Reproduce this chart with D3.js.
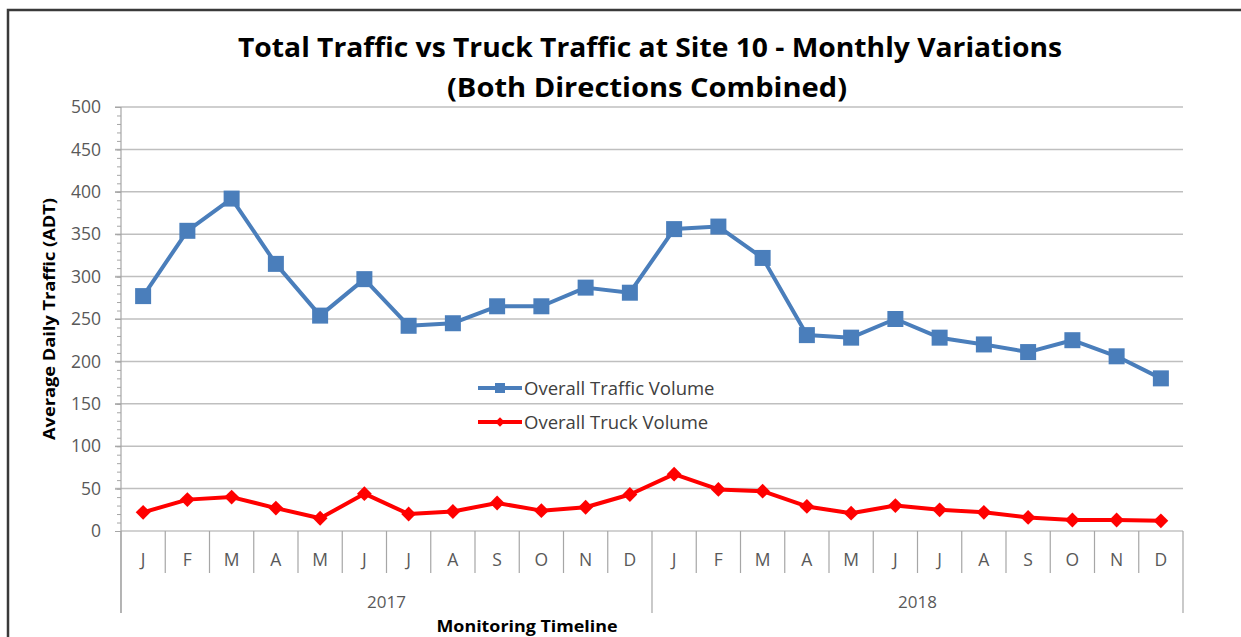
<!DOCTYPE html>
<html lang="en">
<head>
    <meta charset="UTF-8">
    <title>Total Traffic vs Truck Traffic at Site 10</title>
    <script src="https://d3js.org/d3.v7.min.js"></script>
    <style>
        body { margin: 0; background: #fff; }
        text { font-family: "Open Sans", sans-serif; }
        .grid { stroke: #bfbfbf; stroke-width: 1.5; }
        .axisline { stroke: #a6a6a6; stroke-width: 1.2; fill: none; }
    </style>
</head>
<body>
    <script>
        // Data
        const years = ["2017", "2018"];
        const months = ["J", "F", "M", "A", "M", "J", "J", "A", "S", "O", "N", "D"];
        const totalTraffic = [277, 354, 392, 315, 254, 297, 242, 245, 265, 265, 287, 281,
                              356, 359, 322, 231, 228, 250, 228, 220, 211, 225, 206, 180];
        const truckTraffic = [22, 37, 40, 27, 15, 44, 20, 23, 33, 24, 28, 43,
                              67, 49, 47, 29, 21, 30, 25, 22, 16, 13, 13, 12];
        const yTicks = [0, 50, 100, 150, 200, 250, 300, 350, 400, 450, 500];

        const categories = years.flatMap(y => months.map((m, i) => y + "-" + i));

        const svgWidth = 1241;
        const svgHeight = 637;
        const plot = { left: 121, right: 1183, top: 107, bottom: 531 };

        const svg = d3.select("body").append("svg")
            .attr("width", svgWidth)
            .attr("height", svgHeight);

        // outer frame
        svg.append("rect")
            .attr("x", 8).attr("y", 10)
            .attr("width", 1300).attr("height", 700)
            .attr("fill", "none")
            .attr("stroke", "#3a3a3a")
            .attr("stroke-width", 2.5);

        const x = d3.scaleBand()
            .domain(categories)
            .range([plot.left, plot.right])
            .padding(0);

        const y = d3.scaleLinear()
            .domain([0, 500])
            .range([plot.bottom, plot.top]);

        // gridlines
        svg.selectAll(".grid")
            .data(yTicks.filter(d => d > 0))
            .enter().append("line")
            .attr("class", "grid")
            .attr("x1", plot.left - 6).attr("x2", plot.right)
            .attr("y1", d => y(d)).attr("y2", d => y(d));

        // minor ticks on the value axis
        const minor = svg.append("g")
            .attr("transform", `translate(${plot.left},0)`)
            .call(d3.axisLeft(y).tickValues(d3.range(0, 501, 10)).tickSize(4).tickFormat(""));
        minor.select(".domain").remove();
        minor.selectAll("line").attr("stroke", "#a6a6a6");

        // major ticks and labels
        const yAxis = svg.append("g")
            .attr("transform", `translate(${plot.left},0)`)
            .call(d3.axisLeft(y).tickValues(yTicks).tickSize(6).tickPadding(14));
        yAxis.select(".domain").remove();
        yAxis.selectAll("line").attr("stroke", "#a6a6a6");
        yAxis.selectAll("text")
            .attr("fill", "#595959")
            .style("font-size", "17.5px")
            .style("font-family", "'Open Sans', sans-serif");

        // axis lines
        svg.append("line").attr("class", "axisline")
            .attr("x1", plot.left).attr("x2", plot.left)
            .attr("y1", plot.top).attr("y2", 613);
        svg.append("line").attr("class", "axisline")
            .attr("x1", plot.left).attr("x2", plot.right)
            .attr("y1", plot.bottom).attr("y2", plot.bottom);

        // category separators (long ones at year boundaries)
        const bounds = d3.range(categories.length + 1);
        svg.selectAll(".sep")
            .data(bounds)
            .enter().append("line")
            .attr("class", "axisline")
            .attr("x1", i => i < categories.length ? x(categories[i]) : plot.right)
            .attr("x2", i => i < categories.length ? x(categories[i]) : plot.right)
            .attr("y1", plot.bottom)
            .attr("y2", i => i % 12 === 0 ? 613 : 573);

        // month labels
        svg.selectAll(".month")
            .data(categories)
            .enter().append("text")
            .attr("x", d => x(d) + x.bandwidth() / 2)
            .attr("y", 566)
            .attr("text-anchor", "middle")
            .attr("fill", "#595959")
            .style("font-size", "17.5px")
            .text(d => months[+d.split("-")[1]]);

        // year labels
        svg.selectAll(".year")
            .data(years)
            .enter().append("text")
            .attr("x", (d, i) => {
                const first = x(d + "-0");
                const last = x(d + "-11") + x.bandwidth();
                return (first + last) / 2;
            })
            .attr("y", 608)
            .attr("text-anchor", "middle")
            .attr("fill", "#595959")
            .style("font-size", "17px")
            .text(d => d);

        // lines
        const line = d3.line()
            .x((d, i) => x(categories[i]) + x.bandwidth() / 2)
            .y(d => y(d));

        svg.append("path")
            .datum(totalTraffic)
            .attr("d", line)
            .attr("fill", "none")
            .attr("stroke", "#4a7ebb")
            .attr("stroke-width", 4)
            .attr("stroke-linejoin", "round");

        svg.append("path")
            .datum(truckTraffic)
            .attr("d", line)
            .attr("fill", "none")
            .attr("stroke", "#ff0000")
            .attr("stroke-width", 4)
            .attr("stroke-linejoin", "round");

        // markers
        svg.selectAll(".sq")
            .data(totalTraffic)
            .enter().append("rect")
            .attr("x", (d, i) => x(categories[i]) + x.bandwidth() / 2 - 8)
            .attr("y", d => y(d) - 8)
            .attr("width", 16).attr("height", 16)
            .attr("fill", "#4a7ebb");

        const diamond = d3.symbol().type(d3.symbolSquare).size(110);
        svg.selectAll(".dm")
            .data(truckTraffic)
            .enter().append("path")
            .attr("d", diamond)
            .attr("transform", (d, i) => `translate(${x(categories[i]) + x.bandwidth() / 2},${y(d)}) rotate(45)`)
            .attr("fill", "#ff0000");

        // legend
        const legend = svg.append("g");
        legend.append("line").attr("x1", 478).attr("x2", 522).attr("y1", 388).attr("y2", 388)
            .attr("stroke", "#4a7ebb").attr("stroke-width", 4);
        legend.append("rect").attr("x", 495).attr("y", 383).attr("width", 10).attr("height", 10)
            .attr("fill", "#4a7ebb");
        legend.append("text").attr("x", 524).attr("y", 394.5)
            .attr("fill", "#404040").style("font-size", "18.5px")
            .text("Overall Traffic Volume");
        legend.append("line").attr("x1", 478).attr("x2", 522).attr("y1", 422).attr("y2", 422)
            .attr("stroke", "#ff0000").attr("stroke-width", 4);
        legend.append("path").attr("d", d3.symbol().type(d3.symbolSquare).size(45))
            .attr("transform", "translate(500,422) rotate(45)")
            .attr("fill", "#ff0000");
        legend.append("text").attr("x", 524).attr("y", 428.5)
            .attr("fill", "#404040").style("font-size", "18.5px")
            .text("Overall Truck Volume");

        // titles
        svg.append("text")
            .attr("x", 650).attr("y", 57)
            .attr("text-anchor", "middle")
            .style("font-size", "26px").style("font-weight", "bold")
            .attr("textLength", 824).attr("lengthAdjust", "spacingAndGlyphs")
            .text("Total Traffic vs Truck Traffic at Site 10 - Monthly Variations");
        svg.append("text")
            .attr("x", 647).attr("y", 97)
            .attr("text-anchor", "middle")
            .style("font-size", "26px").style("font-weight", "bold")
            .attr("textLength", 400).attr("lengthAdjust", "spacingAndGlyphs")
            .text("(Both Directions Combined)");

        svg.append("text")
            .attr("transform", "translate(55,319) rotate(-90)")
            .attr("text-anchor", "middle")
            .style("font-size", "16px").style("font-weight", "bold")
            .attr("textLength", 242).attr("lengthAdjust", "spacingAndGlyphs")
            .text("Average Daily Traffic (ADT)");

        svg.append("text")
            .attr("x", 527).attr("y", 632)
            .attr("text-anchor", "middle")
            .style("font-size", "16px").style("font-weight", "bold")
            .attr("textLength", 181).attr("lengthAdjust", "spacingAndGlyphs")
            .text("Monitoring Timeline");
    </script>
</body>
</html>
